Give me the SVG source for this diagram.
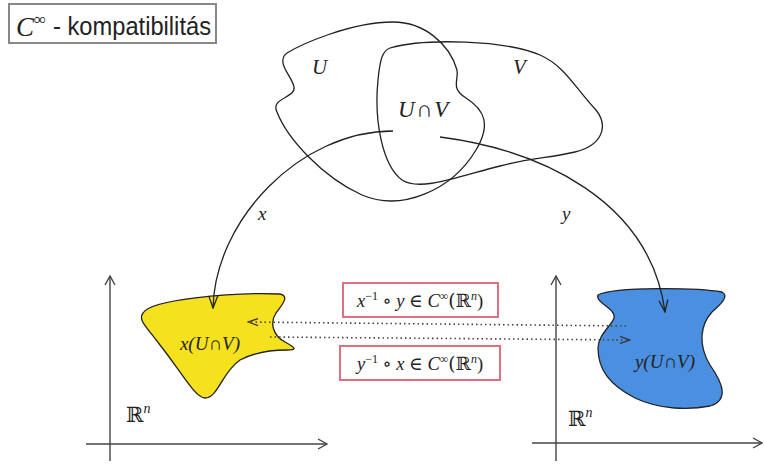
<svg xmlns="http://www.w3.org/2000/svg" width="764" height="464" viewBox="0 0 764 464">
<style>
.ln{fill:none;stroke:#222;stroke-width:1.3}
.ax{fill:none;stroke:#444;stroke-width:1.4}
.dot{fill:none;stroke:#444;stroke-width:1.6;stroke-dasharray:1.5 3}
.m{font-family:"Liberation Serif","DejaVu Serif",serif;font-style:italic;fill:#222}
.bx{fill:#fff;stroke:#e07080;stroke-width:2}
</style>
<defs>
<marker id="ah" viewBox="-13 -6 14 12" markerWidth="14" markerHeight="12" refX="0" refY="0" orient="auto" markerUnits="userSpaceOnUse">
<path d="M-12,-4.5 L0,0 L-12,4.5" fill="none" stroke="#222" stroke-width="1.3"/>
</marker>
<marker id="ad" viewBox="-11 -5 12 10" markerWidth="12" markerHeight="10" refX="0" refY="0" orient="auto" markerUnits="userSpaceOnUse">
<path d="M-10,-3.5 L0,0 L-10,3.5" fill="none" stroke="#333" stroke-width="1.3"/>
</marker>
<marker id="aa" viewBox="-11 -6 12 12" markerWidth="12" markerHeight="12" refX="0" refY="0" orient="auto" markerUnits="userSpaceOnUse">
<path d="M-9,-5 L0,0 L-9,5" fill="none" stroke="#444" stroke-width="1.4"/>
</marker>
</defs>
<g id="title">
<rect x="9" y="4" width="207" height="39" fill="#fff" stroke="#888" stroke-width="2"/>
<text x="16" y="36" class="m" font-size="27">C</text>
<text x="34" y="25" font-family="Liberation Serif,serif" font-size="17" fill="#222">∞</text>
<text x="53" y="35" font-family="Liberation Sans,Arial,sans-serif" font-size="25" fill="#222" textLength="158" lengthAdjust="spacingAndGlyphs">- kompatibilitás</text>
</g>
<g id="axes-left">
<path class="ax" d="M110,461 L110,276" marker-end="url(#aa)"/>
<path class="ax" d="M86,444 L327,444" marker-end="url(#aa)"/>
<text x="126" y="422" font-family="DejaVu Serif,serif" font-size="21" fill="#222">ℝ<tspan dy="-9" font-size="14" font-style="italic" font-family="Liberation Serif,serif">n</tspan></text>
</g>
<g id="axes-right">
<path class="ax" d="M556,461 L556,276" marker-end="url(#aa)"/>
<path class="ax" d="M532,443 L762,443" marker-end="url(#aa)"/>
<text x="568" y="426" font-family="DejaVu Serif,serif" font-size="21" fill="#222">ℝ<tspan dy="-9" font-size="14" font-style="italic" font-family="Liberation Serif,serif">n</tspan></text>
</g>
<g id="U">
<path class="ln" d="M393,22 C350,22 300,45 287,53 C275,62 292,76 294,87 C296,98 270,98 277,112 C287,138 322,177 362,195 C402,212 452,190 476,150 C491,125 485,110 466,98 C450,88 459,80 457,70 C450,45 425,22 393,22 Z"/>
<text x="312" y="74" class="m" font-size="21">U</text>
</g>
<g id="V">
<path class="ln" d="M390,48 C425,38 505,40 540,55 C565,66 575,88 596,110 C610,128 600,146 575,152 C550,158 530,158 500,166 C460,176 420,192 402,180 C382,165 374,120 378,80 C380,60 382,51 390,48 Z"/>
<text x="513" y="74" class="m" font-size="21">V</text>
</g>
<text x="424" y="117" class="m" font-size="23" letter-spacing="1.5" text-anchor="middle">U∩V</text>
<g id="xUV">
<path d="M143,313 C150,300 230,292 280,294 C290,296 282,305 276,313 C270,322 272,335 285,342 C296,348 297,350 287,350 C272,350 255,352 240,360 C222,372 218,398 205,398 C195,398 180,370 160,345 C145,325 138,320 143,313 Z" fill="#f5e11d" stroke="#222" stroke-width="1.3"/>
<text x="210" y="350" class="m" font-size="19" text-anchor="middle">x(U∩V)</text>
</g>
<g id="yUV">
<path d="M598,295 C615,286 700,288 722,292 C730,296 720,305 712,312 C700,325 698,345 710,365 C722,382 730,400 710,406 C690,410 660,410 635,398 C610,385 598,370 598,348 C598,335 612,325 614,318 C616,308 595,303 598,295 Z" fill="#4a8fe0" stroke="#222" stroke-width="1.3"/>
<text x="665" y="368" class="m" font-size="19" text-anchor="middle">y(U∩V)</text>
</g>
<g id="connectors">
<path class="ln" d="M393,131 C300,131 215,220 213,308" marker-end="url(#ah)"/>
<path class="ln" d="M440,137 C540,150 650,200 665,312" marker-end="url(#ah)"/>
<path class="dot" d="M626,326 L248,322" marker-end="url(#ad)"/>
<path class="dot" d="M270,337 L630,340" marker-end="url(#ad)"/>
<text x="258" y="220" class="m" font-size="19">x</text>
<text x="562" y="220" class="m" font-size="19">y</text>
</g>
<g id="box1">
<rect class="bx" x="343" y="283" width="155" height="34"/>
<text x="420" y="307" class="m" font-size="18.5" text-anchor="middle">x<tspan dy="-7" font-size="12" font-style="normal">−1</tspan><tspan dy="7" font-style="normal"> ∘ </tspan>y<tspan font-style="normal"> ∈ </tspan>C<tspan dy="-7" font-size="12" font-style="normal">∞</tspan><tspan dy="7" font-style="normal" font-family="DejaVu Serif,serif">(ℝ</tspan><tspan dy="-7" font-size="12">n</tspan><tspan dy="7" font-style="normal">)</tspan></text>
</g>
<g id="box2">
<rect class="bx" x="340" y="346" width="160" height="34"/>
<text x="420" y="370" class="m" font-size="18.5" text-anchor="middle">y<tspan dy="-7" font-size="12" font-style="normal">−1</tspan><tspan dy="7" font-style="normal"> ∘ </tspan>x<tspan font-style="normal"> ∈ </tspan>C<tspan dy="-7" font-size="12" font-style="normal">∞</tspan><tspan dy="7" font-style="normal" font-family="DejaVu Serif,serif">(ℝ</tspan><tspan dy="-7" font-size="12">n</tspan><tspan dy="7" font-style="normal">)</tspan></text>
</g>
</svg>
